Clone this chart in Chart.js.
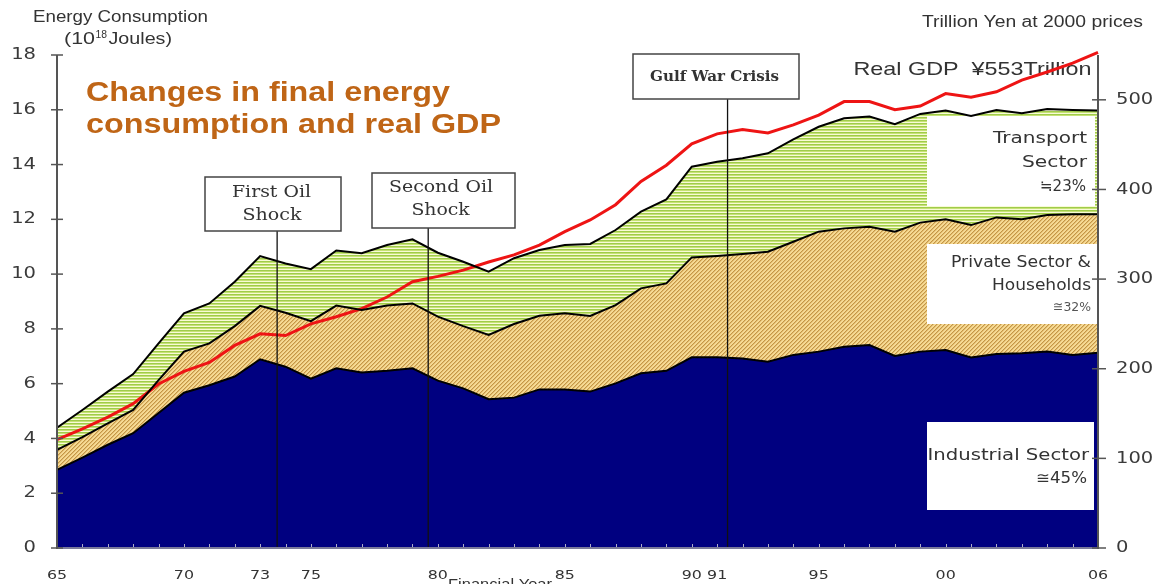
<!DOCTYPE html>
<html><head><meta charset="utf-8">
<script src="https://cdn.jsdelivr.net/npm/chart.js@4.4.0/dist/chart.umd.min.js"></script>
<style>html,body{margin:0;padding:0;background:#fff;overflow:hidden;width:1158px;height:584px}canvas{display:block}</style>
</head><body>
<canvas id="c" width="1158" height="600"></canvas>
<script>
// ---- data (fiscal years, 10^18 J per sector; GDP trillion yen at 2000 prices)
const years = [1965,1966,1967,1968,1969,1970,1971,1972,1973,1974,1975,1976,1977,1978,1979,1980,1981,1982,1983,1984,1985,1986,1987,1988,1989,1990,1991,1992,1993,1994,1995,1996,1997,1998,1999,2000,2001,2002,2003,2004,2005,2006];
const industrial = [2.85,3.30,3.77,4.19,4.93,5.67,5.94,6.26,6.89,6.62,6.18,6.56,6.41,6.47,6.56,6.11,5.83,5.43,5.49,5.79,5.79,5.71,6.01,6.38,6.47,6.96,6.96,6.92,6.80,7.05,7.17,7.35,7.41,7.01,7.17,7.23,6.96,7.08,7.11,7.17,7.05,7.13];
const privateHH = [0.73,0.75,0.78,0.85,1.20,1.50,1.53,1.84,1.95,1.97,2.10,2.29,2.28,2.38,2.37,2.34,2.27,2.35,2.69,2.69,2.78,2.76,2.86,3.10,3.19,3.65,3.70,3.81,4.02,4.13,4.38,4.32,4.32,4.54,4.71,4.77,4.83,4.99,4.89,4.99,5.14,5.06];
const transport = [0.81,0.99,1.16,1.31,1.34,1.40,1.46,1.62,1.82,1.80,1.90,2.01,2.07,2.21,2.34,2.33,2.35,2.31,2.40,2.40,2.49,2.63,2.74,2.80,3.07,3.31,3.44,3.50,3.59,3.74,3.83,4.02,4.02,3.92,3.97,3.97,3.98,3.92,3.87,3.87,3.80,3.78];
const gdp = [121,133,146,161,183,197,207,226,239,237,250,258,267,280,297,303,310,319,327,338,353,366,383,409,427,451,462,467,463,472,483,498,498,489,493,507,503,509,522,531,541,553];
const leftTicks = [0,2,4,6,8,10,12,14,16,18];
const rightTicks = [0,100,200,300,400,500];
const xTickYears = [1965,1970,1973,1975,1980,1985,1990,1991,1995,2000,2006];
const xTickLabels = ['65','70','73','75','80','85','90','91','95','00','06'];
const eventYears = [1973.67, 1979.62, 1991.41];
const eventLabels = [['First Oil','Shock'],['Second Oil','Shock'],['Gulf War Crisis']];

function pts(arr){ return years.map((y,i)=>({x:y,y:arr[i]})); }

function makeStripe(){
  const c=document.createElement('canvas'); c.width=4; c.height=3;
  const g=c.getContext('2d');
  const rows=['rgb(160,204,74)','rgb(198,226,118)','rgb(248,250,214)'];
  rows.forEach((col,i)=>{g.fillStyle=col; g.fillRect(0,i,4,1);});
  return g.createPattern(c,'repeat');
}
function makeHatch(){
  const c=document.createElement('canvas'); c.width=8; c.height=8;
  const g=c.getContext('2d'); const im=g.createImageData(8,8);
  for(let y=0;y<8;y++)for(let x=0;x<8;x++){
    const k=(x+y)%4; let col;
    if(k===0) col=[196,150,70]; else if(k===1) col=[226,188,112]; else col=[246,218,148];
    const p=(y*8+x)*4; im.data[p]=col[0];im.data[p+1]=col[1];im.data[p+2]=col[2];im.data[p+3]=255;
  }
  g.putImageData(im,0,0);
  return g.createPattern(c,'repeat');
}

function fit(ctx,s,x,y,w,align,font,color,base){
  ctx.save(); ctx.font=font; ctx.fillStyle=color; ctx.textAlign=align; ctx.textBaseline=base||'middle';
  const nat=ctx.measureText(s).width; ctx.translate(x,y); ctx.scale(w/nat,1); ctx.fillText(s,0,0); ctx.restore();
}
function sc(ctx,s,x,y,sx,align,font,color){
  ctx.save(); ctx.font=font; ctx.fillStyle=color; ctx.textAlign=align; ctx.textBaseline='middle';
  ctx.translate(x,y); ctx.scale(sx,1); ctx.fillText(s,0,0); ctx.restore();
}

const decor = {
  id:'decor',
  beforeDatasetsDraw(chart){
    const ctx=chart.ctx;
    ctx.save();
    ctx.fillStyle='#fff';
    ctx.fillRect(927,116,168,90);
    ctx.fillRect(927,244,170,80);
    ctx.fillRect(927,422,167,88);
    const sans='15px "DejaVu Sans"', col='#333';
    fit(ctx,'Transport',1087,139.5,94,'right',sans,col);
    fit(ctx,'Sector',1087,162.7,65,'right',sans,col);
    fit(ctx,'≒23%',1086,186.7,46,'right',sans,col);
    fit(ctx,'Private Sector &',1091,263.3,140,'right',sans,col);
    fit(ctx,'Households',1091,286,99,'right',sans,col);
    fit(ctx,'≅32%',1091,307.3,38,'right','13px "DejaVu Sans"','#555');
    fit(ctx,'Industrial Sector',1089,455.7,161.5,'right',sans,col);
    fit(ctx,'≅45%',1087,479,51,'right',sans,col);
    fit(ctx,'Real GDP  ¥553Trillion',853.5,69.5,238,'left','19px "Liberation Sans"','#333');
    ctx.restore();
  },
  afterDatasetsDraw(chart){
    const ctx=chart.ctx, xs=chart.scales.x, ys=chart.scales.y, y2=chart.scales.y2, ca=chart.chartArea;
    ctx.save();
    // event lines and boxes
    const boxes=[[205,177,136,54],[372,173,143,55],[633,54,166,45]];
    eventYears.forEach((yr,i)=>{
      const x=xs.getPixelForValue(yr); const b=boxes[i];
      ctx.strokeStyle='#111'; ctx.lineWidth=1.3;
      ctx.beginPath(); ctx.moveTo(x,b[1]+b[3]); ctx.lineTo(x,ca.bottom); ctx.stroke();
      ctx.fillStyle='#fff'; ctx.fillRect(b[0],b[1],b[2],b[3]);
      ctx.strokeStyle='#444'; ctx.lineWidth=1.5; ctx.strokeRect(b[0],b[1],b[2],b[3]);
    });
    const serif='17px "DejaVu Serif"';
    fit(ctx,'First Oil',271.5,192.5,79,'center',serif,'#333');
    fit(ctx,'Shock',272,216,59,'center',serif,'#333');
    fit(ctx,'Second Oil',441,187.7,104,'center',serif,'#333');
    fit(ctx,'Shock',440.6,211,58.4,'center',serif,'#333');
    fit(ctx,'Gulf War Crisis',714.5,76.7,129,'center','bold 15px "DejaVu Serif"','#333');
    // axes
    ctx.strokeStyle='#7a7a9a'; ctx.lineWidth=2;
    ctx.beginPath(); ctx.moveTo(ca.left,ca.bottom); ctx.lineTo(ca.right,ca.bottom); ctx.stroke();
    ctx.strokeStyle='#b0b0c8'; ctx.lineWidth=1;
    years.forEach(yr=>{const x=Math.round(xs.getPixelForValue(yr))+0.5; ctx.beginPath(); ctx.moveTo(x,ca.bottom-1); ctx.lineTo(x,ca.bottom-4); ctx.stroke();});
    ctx.strokeStyle='#555'; ctx.lineWidth=2;
    ctx.beginPath(); ctx.moveTo(ca.left,ys.getPixelForValue(18)); ctx.lineTo(ca.left,ca.bottom+1); ctx.stroke();
    ctx.beginPath(); ctx.moveTo(ca.right,ca.top); ctx.lineTo(ca.right,ca.bottom+1); ctx.stroke();
    ctx.lineWidth=1.5;
    leftTicks.forEach(v=>{const y=ys.getPixelForValue(v); ctx.beginPath(); ctx.moveTo(ca.left-6,y); ctx.lineTo(ca.left+6,y); ctx.stroke();
      sc(ctx,String(v),36,y,1.22,'right','16px "DejaVu Sans"','#3a3a3a');});
    rightTicks.forEach(v=>{const y=y2.getPixelForValue(v); ctx.beginPath(); ctx.moveTo(ca.right-6,y); ctx.lineTo(ca.right+8,y); ctx.stroke();
      sc(ctx,String(v),1116,y,1.22,'left','16px "DejaVu Sans"','#3a3a3a');});
    xTickYears.forEach((yr,i)=>{const x=xs.getPixelForValue(yr);
      sc(ctx,xTickLabels[i],x,575.5,1.22,'center','13px "DejaVu Sans"','#333');});
    // axis titles
    const lab='16px "Liberation Sans"';
    fit(ctx,'Energy Consumption',33,17.5,175,'left',lab,'#333');
    fit(ctx,'(10',64,40,31,'left',lab,'#333');
    fit(ctx,'18',95.5,35,11.5,'left','10px "Liberation Sans"','#333');
    fit(ctx,'Joules)',108.5,40,63.5,'left',lab,'#333');
    fit(ctx,'Trillion Yen at 2000 prices',922,23,221,'left',lab,'#333');
    fit(ctx,'Financial Year',448,589,104,'left','14px "Liberation Sans"','#333','alphabetic');
    // title
    fit(ctx,'Changes in final energy',86,100.7,364,'left','bold 27px "Liberation Sans"','#bf6516','alphabetic');
    fit(ctx,'consumption and real GDP',86,132.7,415,'left','bold 27px "Liberation Sans"','#bf6516','alphabetic');
    ctx.restore();
  }
};

new Chart(document.getElementById('c'),{
  type:'line',
  data:{datasets:[
    {label:'Industrial Sector',data:pts(industrial),yAxisID:'y',stack:'e',fill:'origin',backgroundColor:'#000080',borderColor:'#000',borderWidth:2,pointRadius:0,tension:0},
    {label:'Private Sector & Households',data:pts(privateHH),yAxisID:'y',stack:'e',fill:'-1',backgroundColor:makeHatch(),borderColor:'#000',borderWidth:2,pointRadius:0,tension:0},
    {label:'Transport Sector',data:pts(transport),yAxisID:'y',stack:'e',fill:'-1',backgroundColor:makeStripe(),borderColor:'#000',borderWidth:2,pointRadius:0,tension:0},
    {label:'Real GDP',data:pts(gdp),yAxisID:'y2',stack:'g',fill:false,borderColor:'#ee1414',borderWidth:3,pointRadius:0,tension:0,clip:false}
  ]},
  options:{
    responsive:false,animation:false,devicePixelRatio:1,
    layout:{padding:{top:55,left:0,right:0,bottom:0}},
    plugins:{legend:{display:false},tooltip:{enabled:false},filler:{propagate:false,drawTime:'beforeDatasetsDraw'}},
    scales:{
      x:{type:'linear',min:1965,max:2006,ticks:{display:false},grid:{display:false},border:{display:false},afterFit(s){s.height=52;}},
      y:{stacked:true,min:0,max:18,ticks:{display:false},grid:{display:false},border:{display:false},afterFit(s){s.width=57;}},
      y2:{position:'right',min:0,max:550,ticks:{display:false},grid:{display:false},border:{display:false},afterFit(s){s.width=60;}}
    }
  },
  plugins:[decor]
});
</script>
</body></html>
